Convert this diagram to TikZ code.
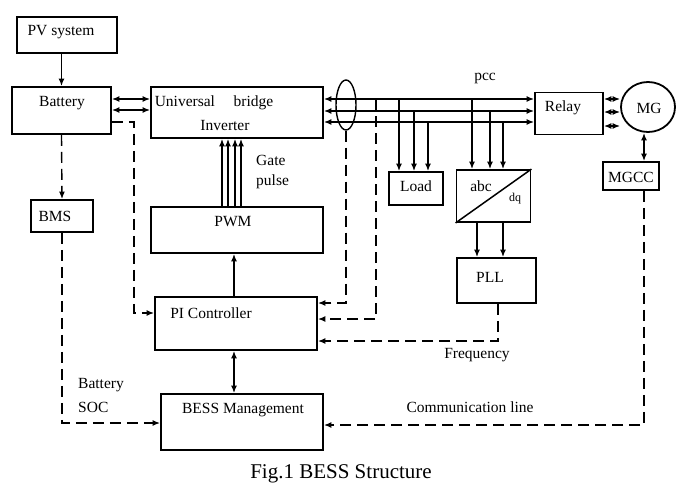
\documentclass[tikz,border=0pt]{standalone}
\usepackage{fontspec}
\setmainfont{Liberation Serif}
\usetikzlibrary{arrows.meta,shapes.geometric}
\begin{document}
\begin{tikzpicture}[x=1pt,y=-1pt,
  box/.style={draw,line width=1.8pt,inner sep=0pt},
  lbl/.style={inner sep=0pt,font=\fontsize{15.5}{17}\selectfont},
  conn/.style={line width=1.4pt},
  arr/.style={conn,-{Latex[length=7.5pt,width=6pt]}},
  darr/.style={conn,{Latex[length=7.5pt,width=6pt]}-{Latex[length=7.5pt,width=6pt]}},
  dsh/.style={dash pattern=on 11pt off 6pt}]
\useasboundingbox (0,0) rectangle (676,493);
% boxes
\node[box,minimum width=100pt,minimum height=36pt] (pv) at (67,35) {};
\node[box,minimum width=99pt,minimum height=47pt] (bat) at (61.5,110.5) {};
\node[box,minimum width=62pt,minimum height=32pt] (bms) at (62,216) {};
\node[box,minimum width=172pt,minimum height=51pt] (inv) at (237,112.5) {};
\node[box,minimum width=172pt,minimum height=46pt] (pwm) at (237,230) {};
\node[box,minimum width=162pt,minimum height=53pt] (pi) at (236,323.5) {};
\node[box,minimum width=162pt,minimum height=56pt] (bess) at (242,422) {};
\node[box,minimum width=54pt,minimum height=33pt] (load) at (416,188.5) {};
\node[box,minimum width=74pt,minimum height=52pt] (abc) at (493.5,196) {};
\node[box,minimum width=79pt,minimum height=45pt] (pll) at (496.5,280.5) {};
\node[box,minimum width=68pt,minimum height=42pt] (relay) at (569,113.5) {};
\node[draw,line width=1.8pt,ellipse,minimum width=54pt,minimum height=50pt,inner sep=0pt] (mg) at (648,107) {};
\node[box,minimum width=56pt,minimum height=28pt] (mgcc) at (631,176) {};
\node[draw,line width=1.4pt,ellipse,minimum width=20pt,minimum height=50pt,inner sep=0pt] (ell) at (346,105) {};
\draw[line width=1.5pt] (abc.south west) -- (abc.north east);
% labels
\node[lbl] (tpv) at (61,32) {PV system};
\node[lbl] (tbat) at (62,103) {Battery};
\node[lbl] (tbms) at (55,216) {BMS};
\node[lbl] (tinv1) at (214,103) {Universal\hspace{1.2em}bridge};
\node[lbl] (tinv2) at (225,125) {Inverter};
\node[lbl,anchor=west] (tgate) at (256,160) {Gate};
\node[lbl,anchor=west] (tpulse) at (256,182) {pulse};
\node[lbl] (tpwm) at (233,222) {PWM};
\node[lbl] (tpi) at (211,313) {PI Controller};
\node[lbl] (tbess) at (243,410) {BESS Management};
\node[lbl,anchor=west] (tsoc1) at (78,385) {Battery};
\node[lbl,anchor=west] (tsoc2) at (78,407) {SOC};
\node[lbl] (tload) at (416,186) {Load};
\node[lbl] (tabc) at (481,186) {abc};
\node[lbl,font=\fontsize{12}{14}\selectfont] (tdq) at (515,199) {dq};
\node[lbl] (tpll) at (490,277) {PLL};
\node[lbl] (trelay) at (563,108) {Relay};
\node[lbl] (tmg) at (649,108) {MG};
\node[lbl] (tmgcc) at (631,177) {MGCC};
\node[lbl] (tpcc) at (485,78) {pcc};
\node[lbl] (tfreq) at (477,355) {Frequency};
\node[lbl] (tcomm) at (470,407) {Communication line};
\node[inner sep=0pt,font=\fontsize{21}{24}\selectfont] (cap) at (341,474) {Fig.1 BESS Structure};
% connectors
\draw[arr] (pv.south -| bat.north) -- (bat.north);
\draw[darr] (bat.east |- 0,99) -- (inv.west |- 0,99);
\draw[darr] (bat.east |- 0,110) -- (inv.west |- 0,110);
\draw[arr,dsh] (bat.east |- 0,122) -- (134,122) |- (pi.west |- 0,313);
\draw[arr,dsh] (bat.south) -- (bms.north);
\draw[arr,dsh] (bms.south) |- (bess.west |- 0,423);
\foreach \xx in {222,228,235,241} \draw[arr] (pwm.north -| \xx,0) -- (inv.south -| \xx,0);
\draw[arr] (pi.north -| 234,0) -- (pwm.south -| 234,0);
\draw[darr] (pi.south -| 234,0) -- (bess.north -| 234,0);
\foreach \yy in {99,111,122} \draw[darr] (inv.east |- 0,\yy) -- (relay.west |- 0,\yy);
\draw[arr,dsh] (ell.south) |- (pi.east |- 0,303);
\draw[arr,dsh] (376,99) |- (pi.east |- 0,319);
\draw[arr] (399,99) -- (load.north -| 399,0);
\draw[arr] (414,111) -- (load.north -| 414,0);
\draw[arr] (428,122) -- (load.north -| 428,0);
\draw[arr] (472,99) -- (abc.north -| 472,0);
\draw[arr] (490,111) -- (abc.north -| 490,0);
\draw[arr] (503,122) -- (abc.north -| 503,0);
\draw[arr] (abc.south -| 477,0) -- (pll.north -| 477,0);
\draw[arr] (abc.south -| 503,0) -- (pll.north -| 503,0);
\draw[arr,dsh] (pll.south -| 498,0) |- (pi.east |- 0,341);
\foreach \yy in {99,112,126} \draw[darr] (relay.east |- 0,\yy) -- (mg.west |- 0,\yy);
\draw[darr] (mg.south -| 644,0) -- (mgcc.north -| 644,0);
\draw[arr,dsh] (mgcc.south -| 644,0) |- (bess.east |- 0,425);
\end{tikzpicture}
\end{document}
